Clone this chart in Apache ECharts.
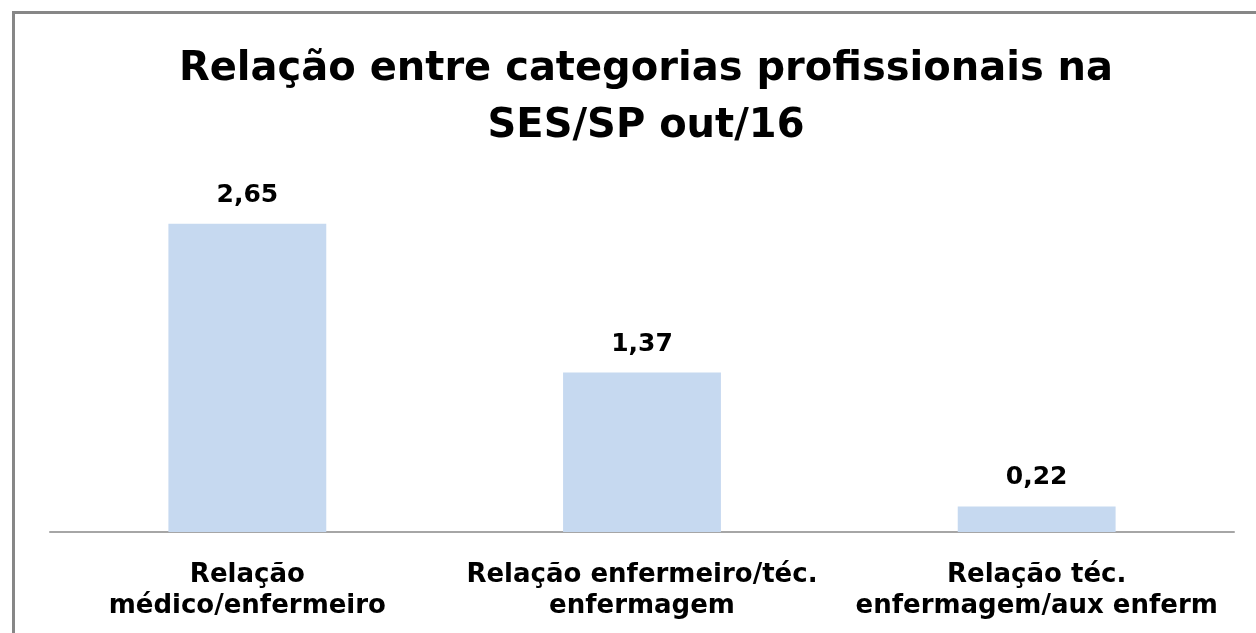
<!DOCTYPE html>
<html>
<head>
<meta charset="utf-8">
<script src="https://cdn.jsdelivr.net/npm/echarts@6/dist/echarts.min.js"></script>
<style>
    html, body { margin: 0; padding: 0; background: #fff; }
    #container { width: 1256px; height: 633px; }
</style>
</head>
<body>
<div id="container"></div>
<script>
var categories = [
    'Relação\nmédico/enfermeiro',
    'Relação enfermeiro/téc.\nenfermagem',
    'Relação téc.\nenfermagem/aux enferm'
];
var values = [2.65, 1.37, 0.22];

var myChart = echarts.init(document.getElementById('container'));

var option = {
    backgroundColor: '#fff',
    animation: false,
    title: {
        text: 'Relação entre categorias profissionais na\nSES/SP out/16',
        left: 641,
        textAlign: 'center',
        top: 36,
        textStyle: {
            fontFamily: 'DejaVu Sans',
            fontWeight: 'bold',
            fontSize: 40,
            lineHeight: 57,
            color: '#000'
        }
    },
    graphic: [{
        type: 'polyline',
        shape: { points: [[13.5, 640], [13.5, 12.5], [1260, 12.5]] },
        style: { stroke: '#878787', lineWidth: 3, fill: null }
    }],
    grid: {
        left: 50,
        right: 22,
        top: 183,
        bottom: 101
    },
    xAxis: {
        type: 'category',
        data: categories,
        axisLine: { lineStyle: { color: '#a6a6a6', width: 2 } },
        axisTick: { show: false },
        axisLabel: {
            interval: 0,
            margin: 28,
            fontFamily: 'DejaVu Sans',
            fontWeight: 'bold',
            fontSize: 26,
            lineHeight: 31,
            color: '#000'
        }
    },
    yAxis: {
        type: 'value',
        min: 0,
        max: 3,
        show: false
    },
    series: [{
        type: 'bar',
        data: values,
        barWidth: '40%',
        itemStyle: { color: '#c6d9f0' },
        label: {
            show: true,
            position: 'top',
            distance: 16,
            fontFamily: 'DejaVu Sans',
            fontWeight: 'bold',
            fontSize: 25,
            color: '#000',
            formatter: function (p) {
                return p.value.toFixed(2).replace('.', ',');
            }
        }
    }]
};
myChart.setOption(option);
</script>
</body>
</html>
